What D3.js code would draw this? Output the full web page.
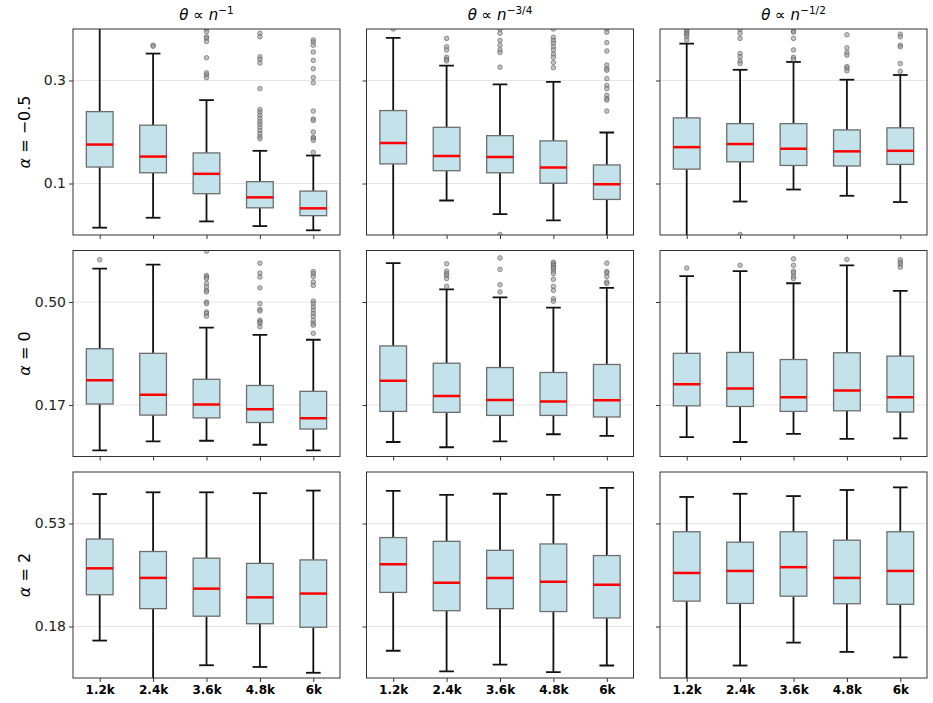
<!DOCTYPE html>
<html lang="en">
<head>
<meta charset="UTF-8">
<title>Box plots: alpha x theta rate</title>
<script src="https://d3js.org/d3.v7.min.js"></script>
<style>
  body { margin: 0; background: #fff; }
  svg { font-family: "DejaVu Sans", sans-serif; }
</style>
</head>
<body>
<div id="chart"></div>
<script>
// categories
const sizes = ["1.2k", "2.4k", "3.6k", "4.8k", "6k"];
const colExps = ["\u22121", "\u22123/4", "\u22121/2"];
const rowAlphas = ["\u22120.5", "0", "2"];

// y range per row and its two tick labels
const yMax = [0.394, 0.667, 0.71];
const tickLabels = [["0.1", "0.3"], ["0.17", "0.50"], ["0.18", "0.53"]];

// box stats per panel: [whiskerLow, q1, median, q3, whiskerHigh]
const boxesAlphaM05 = [
  [[0.014, 0.130, 0.173, 0.236, 0.42], [0.033, 0.119, 0.150, 0.210, 0.347], [0.026, 0.079, 0.117, 0.157, 0.258], [0.017, 0.052, 0.072, 0.102, 0.161], [0.009, 0.037, 0.051, 0.084, 0.152]],
  [[-0.01, 0.136, 0.176, 0.238, 0.377], [0.066, 0.123, 0.151, 0.206, 0.324], [0.040, 0.119, 0.149, 0.190, 0.288], [0.028, 0.099, 0.129, 0.180, 0.293], [-0.01, 0.068, 0.097, 0.134, 0.196]],
  [[-0.01, 0.126, 0.168, 0.224, 0.366], [0.064, 0.140, 0.174, 0.213, 0.316], [0.087, 0.133, 0.165, 0.213, 0.331], [0.075, 0.132, 0.160, 0.201, 0.297], [0.063, 0.135, 0.161, 0.205, 0.306]]
];
const boxesAlpha0 = [
  [[0.020, 0.170, 0.247, 0.349, 0.608], [0.049, 0.134, 0.200, 0.334, 0.621], [0.051, 0.125, 0.168, 0.250, 0.417], [0.038, 0.110, 0.153, 0.230, 0.394], [0.020, 0.089, 0.124, 0.211, 0.378]],
  [[0.047, 0.146, 0.245, 0.358, 0.626], [0.030, 0.143, 0.196, 0.302, 0.541], [0.049, 0.133, 0.183, 0.288, 0.515], [0.072, 0.133, 0.178, 0.272, 0.482], [0.067, 0.128, 0.182, 0.298, 0.546]],
  [[0.063, 0.164, 0.234, 0.334, 0.584], [0.047, 0.162, 0.220, 0.337, 0.600], [0.073, 0.146, 0.192, 0.314, 0.561], [0.057, 0.148, 0.214, 0.336, 0.619], [0.059, 0.144, 0.192, 0.325, 0.536]]
];
const boxesAlpha2 = [
  [[0.129, 0.287, 0.378, 0.479, 0.634], [-0.01, 0.239, 0.345, 0.436, 0.640], [0.044, 0.213, 0.308, 0.413, 0.640], [0.038, 0.187, 0.278, 0.395, 0.637], [0.018, 0.175, 0.291, 0.407, 0.646]],
  [[0.094, 0.295, 0.392, 0.484, 0.645], [0.023, 0.232, 0.328, 0.471, 0.631], [0.046, 0.239, 0.345, 0.440, 0.635], [0.020, 0.229, 0.332, 0.462, 0.631], [0.043, 0.207, 0.321, 0.422, 0.655]],
  [[-0.01, 0.265, 0.362, 0.504, 0.624], [0.043, 0.257, 0.369, 0.468, 0.635], [0.122, 0.282, 0.382, 0.504, 0.627], [0.090, 0.256, 0.345, 0.475, 0.648], [0.071, 0.254, 0.369, 0.504, 0.657]]
];

// outliers per panel, one list per box
const outAlphaM05 = [
  [[], [0.363, 0.361], [0.394, 0.389, 0.379, 0.376, 0.370, 0.339, 0.310, 0.306, 0.301],
   [0.386, 0.379, 0.341, 0.336, 0.329, 0.280, 0.240, 0.235, 0.229, 0.223, 0.217, 0.212, 0.206, 0.200, 0.194, 0.188, 0.184],
   [0.373, 0.369, 0.363, 0.350, 0.334, 0.318, 0.301, 0.291, 0.237, 0.222, 0.219, 0.197, 0.187, 0.185, 0.181, 0.158]],
  [[0.394], [0.376, 0.360, 0.354, 0.340, 0.336, 0.333], [0.394, 0.386, 0.372, 0.363, 0.354, 0.349, 0.321, 0.001],
   [0.394, 0.378, 0.372, 0.367, 0.360, 0.354, 0.346, 0.340, 0.330, 0.320],
   [0.394, 0.388, 0.368, 0.352, 0.325, 0.318, 0.315, 0.299, 0.286, 0.280, 0.267, 0.261, 0.258, 0.237]],
  [[0.393, 0.390, 0.386, 0.383, 0.379, 0.373], [0.393, 0.386, 0.376, 0.347, 0.341, 0.333, 0.328, 0.001],
   [0.390, 0.388, 0.376, 0.354, 0.340, 0.336], [0.383, 0.358, 0.349, 0.344, 0.322, 0.319, 0.314],
   [0.384, 0.379, 0.363, 0.360, 0.328, 0.313]]
];
const outAlpha0 = [
  [[0.637], [], [0.665, 0.586, 0.581, 0.576, 0.560, 0.549, 0.538, 0.533, 0.500, 0.495, 0.468, 0.463, 0.454],
   [0.626, 0.594, 0.581, 0.546, 0.495, 0.476, 0.471, 0.441, 0.436, 0.431, 0.420],
   [0.599, 0.592, 0.583, 0.565, 0.554, 0.503, 0.495, 0.484, 0.474, 0.463, 0.454, 0.441, 0.431, 0.425, 0.399]],
  [[], [0.624, 0.600, 0.592, 0.586, 0.576, 0.551], [0.643, 0.606, 0.556, 0.533],
   [0.629, 0.624, 0.619, 0.613, 0.608, 0.600, 0.592, 0.574, 0.551, 0.538, 0.511, 0.503],
   [0.626, 0.599, 0.594, 0.583, 0.565, 0.560]],
  [[0.610], [0.619], [0.640, 0.619, 0.600, 0.594, 0.583, 0.576], [0.638], [0.637, 0.629, 0.622, 0.613]]
];
const outAlpha2 = [
  [[], [], [], [], []],
  [[], [], [], [], []],
  [[], [], [], [], []]
];

const boxRows = [boxesAlphaM05, boxesAlpha0, boxesAlpha2];
const outRows = [outAlphaM05, outAlpha0, outAlpha2];

const W = 933, H = 703;
const mLeft = 73, mTop = 29, pw = 267, ph = 206, gapX = 26.5, gapY = 15.5;

const svg = d3.select("#chart").append("svg")
  .attr("width", W).attr("height", H);

const x = d3.scaleLinear().domain([0.5, 5.5]).range([0, pw]);
const step = x(2) - x(1);
const boxW = step * 0.5;
const capW = boxW * 0.55;

rowAlphas.forEach((alpha, r) => {
  const y = d3.scaleLinear().domain([0, yMax[r]]).range([ph, 0]);
  const tickVals = [yMax[r] * 0.25, yMax[r] * 0.75];

  colExps.forEach((exp, c) => {
    const g = svg.append("g")
      .attr("transform", `translate(${mLeft + c * (pw + gapX)},${mTop + r * (ph + gapY)})`);

    const clipId = `clip-${r}-${c}`;
    g.append("clipPath").attr("id", clipId)
      .append("rect").attr("width", pw).attr("height", ph);

    // grid
    g.selectAll(".grid").data(tickVals).enter().append("line")
      .attr("x1", 0).attr("x2", pw)
      .attr("y1", d => y(d)).attr("y2", d => y(d))
      .attr("stroke", "#e6e6e6").attr("stroke-width", 1);

    const plot = g.append("g").attr("clip-path", `url(#${clipId})`);
    const stats = boxRows[r][c];
    const outs = outRows[r][c];

    stats.forEach((s, i) => {
      const cx = x(i + 1);
      const [lo, q1, med, q3, hi] = s;
      // whiskers
      plot.append("line").attr("x1", cx).attr("x2", cx)
        .attr("y1", y(q3)).attr("y2", y(hi))
        .attr("stroke", "#111").attr("stroke-width", 1.8);
      plot.append("line").attr("x1", cx).attr("x2", cx)
        .attr("y1", y(q1)).attr("y2", y(lo))
        .attr("stroke", "#111").attr("stroke-width", 1.8);
      [lo, hi].forEach(v => {
        plot.append("line")
          .attr("x1", cx - capW / 2).attr("x2", cx + capW / 2)
          .attr("y1", y(v)).attr("y2", y(v))
          .attr("stroke", "#111").attr("stroke-width", 1.8);
      });
      // box
      plot.append("rect")
        .attr("x", cx - boxW / 2).attr("width", boxW)
        .attr("y", y(q3)).attr("height", y(q1) - y(q3))
        .attr("fill", "#c4e2ea")
        .attr("stroke", "#6e6e6e").attr("stroke-width", 1.3);
      // median
      plot.append("line")
        .attr("x1", cx - boxW / 2).attr("x2", cx + boxW / 2)
        .attr("y1", y(med)).attr("y2", y(med))
        .attr("stroke", "#ff0000").attr("stroke-width", 2.5);
      // outliers
      plot.selectAll(null).data(outs[i]).enter().append("circle")
        .attr("cx", cx).attr("cy", d => y(d)).attr("r", 2.3)
        .attr("fill", "#9a9a9a").attr("fill-opacity", 0.6)
        .attr("stroke", "#555").attr("stroke-opacity", 0.7).attr("stroke-width", 0.8);
    });

    // frame
    g.append("rect").attr("width", pw).attr("height", ph)
      .attr("fill", "none").attr("stroke", "#333").attr("stroke-width", 1);

    // y axis ticks
    const yAxis = d3.axisLeft(y).tickValues(tickVals).tickSize(4)
      .tickFormat((d, i) => c === 0 ? tickLabels[r][i] : "");
    const ya = g.append("g").call(yAxis);
    ya.select(".domain").remove();
    ya.selectAll("line").attr("stroke", "#333");
    ya.selectAll("text").attr("font-size", 14).attr("fill", "#222")
      .attr("font-family", "DejaVu Sans, sans-serif");

    // x axis ticks
    const xAxis = d3.axisBottom(x).tickValues([1, 2, 3, 4, 5]).tickSize(4)
      .tickFormat((d, i) => r === 2 ? sizes[i] : "");
    const xa = g.append("g").attr("transform", `translate(0,${ph})`).call(xAxis);
    xa.select(".domain").remove();
    xa.selectAll("line").attr("stroke", "#333");
    xa.selectAll("text").attr("font-size", 12).attr("font-weight", "bold")
      .attr("fill", "#000").attr("font-family", "DejaVu Sans, sans-serif");

    // column titles
    if (r === 0) {
      const t = svg.append("text")
        .attr("x", mLeft + c * (pw + gapX) + pw / 2).attr("y", 20)
        .attr("text-anchor", "middle").attr("font-size", 15).attr("fill", "#000");
      t.append("tspan").attr("font-style", "italic").text("\u03b8");
      t.append("tspan").text(" \u221d ");
      t.append("tspan").attr("font-style", "italic").text("n");
      t.append("tspan").attr("baseline-shift", "super").attr("font-size", 10.5).text(exp);
    }
  });

  // row labels
  const ly = mTop + r * (ph + gapY) + ph / 2;
  const lt = svg.append("text")
    .attr("transform", `translate(30,${ly}) rotate(-90)`)
    .attr("text-anchor", "middle").attr("font-size", 16).attr("fill", "#000");
  lt.append("tspan").attr("font-style", "italic").text("\u03b1");
  lt.append("tspan").text(" = " + alpha);
});
</script>
</body>
</html>
